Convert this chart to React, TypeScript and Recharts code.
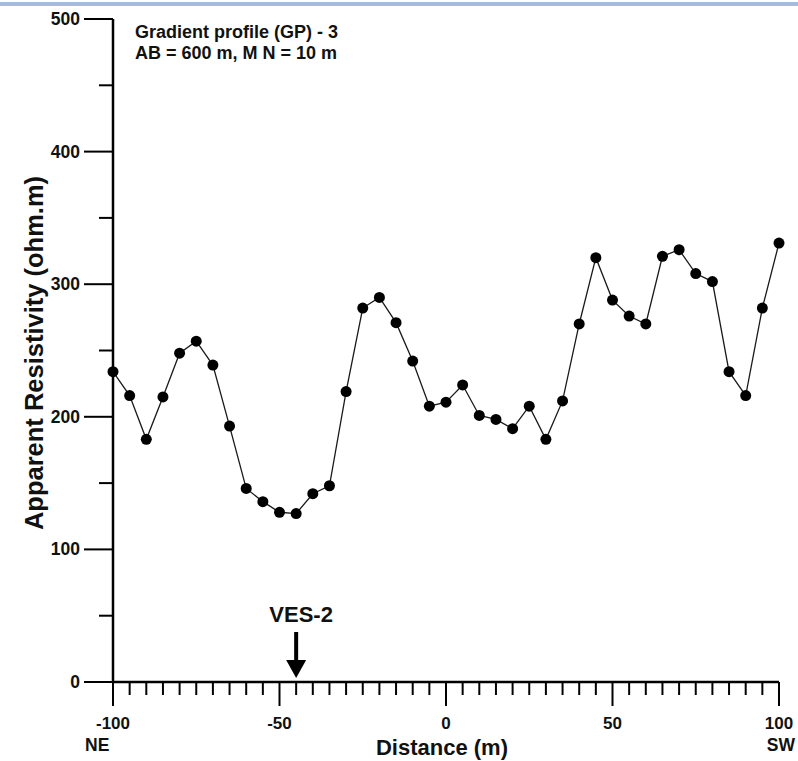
import React from "react";
import { LineChart, Line, XAxis, YAxis, ReferenceDot } from "recharts";

const DISTANCE = [
  -100, -95, -90, -85, -80, -75, -70, -65, -60, -55, -50, -45, -40, -35, -30, -25, -20, -15, -10, -5,
  0, 5, 10, 15, 20, 25, 30, 35, 40, 45, 50, 55, 60, 65, 70, 75, 80, 85, 90, 95, 100,
];
const RESISTIVITY = [
  234, 216, 183, 215, 248, 257, 239, 193, 146, 136, 128, 127, 142, 148, 219, 282, 290, 271, 242, 208,
  211, 224, 201, 198, 191, 208, 183, 212, 270, 320, 288, 276, 270, 321, 326, 308, 302, 234, 216, 282, 331,
];

const X_TICKS = [
  -100, -95, -90, -85, -80, -75, -70, -65, -60, -55, -50, -45, -40, -35, -30, -25, -20, -15, -10, -5,
  0, 5, 10, 15, 20, 25, 30, 35, 40, 45, 50, 55, 60, 65, 70, 75, 80, 85, 90, 95, 100,
];
const X_LABELS = [-100, -50, 0, 50, 100];
const Y_TICKS = [0, 50, 100, 150, 200, 250, 300, 350, 400, 450, 500];
const Y_LABELS = [0, 100, 200, 300, 400, 500];

const VES_POSITION = -45;
const VES_NAME = "VES-2";

const data = DISTANCE.map((d, i) => ({ distance: d, rho: RESISTIVITY[i] }));

const FONT = "'Liberation Sans', Arial, Helvetica, sans-serif";

function XTick(props: any) {
  const { x, y, payload } = props;
  const major = X_LABELS.includes(payload.value);
  return (
    <g>
      <line x1={x} y1={y} x2={x} y2={y + (major ? 24 : 13)} stroke="#000" strokeWidth={2} />
      {major && (
        <text x={x} y={y + 47} textAnchor="middle" fontFamily={FONT} fontWeight="bold" fontSize={17} fill="#111">
          {payload.value}
        </text>
      )}
    </g>
  );
}

function YTick(props: any) {
  const { x, y, payload } = props;
  const major = Y_LABELS.includes(payload.value);
  return (
    <g>
      <line x1={x} y1={y} x2={x - (major ? 29 : 14)} y2={y} stroke="#000" strokeWidth={2} />
      {major && (
        <text x={x - 33} y={y + 6} textAnchor="end" fontFamily={FONT} fontWeight="bold" fontSize={17.5} fill="#111">
          {payload.value}
        </text>
      )}
    </g>
  );
}

function VesMarker(props: any) {
  const { cx, cy } = props;
  return (
    <g>
      <text x={cx + 5} y={cy - 60} textAnchor="middle" fontFamily={FONT} fontWeight="bold" fontSize={22} fill="#111">
        {VES_NAME}
      </text>
      <rect x={cx - 2} y={cy - 50} width={4} height={30} fill="#000" />
      <polygon points={`${cx - 10},${cy - 22} ${cx + 10},${cy - 22} ${cx},${cy - 4}`} fill="#000" />
    </g>
  );
}

export default function App() {
  return (
    <div style={{ position: "absolute", left: 0, top: 0, width: 798, height: 761, background: "#fff" }}>
      <div style={{ position: "absolute", left: 0, top: 2, width: 798, height: 4, background: "#a6bbdd" }} />
      <LineChart width={798} height={761} data={data} margin={{ top: 19, right: 19, bottom: 49, left: 53 }}>
        <XAxis
          dataKey="distance"
          type="number"
          domain={[-100, 100]}
          ticks={X_TICKS}
          interval={0}
          height={30}
          tickSize={0}
          tickMargin={0}
          tickLine={false}
          axisLine={{ stroke: "#000", strokeWidth: 2.5 }}
          tick={<XTick />}
        />
        <YAxis
          type="number"
          domain={[0, 500]}
          ticks={Y_TICKS}
          interval={0}
          width={60}
          tickSize={0}
          tickMargin={0}
          tickLine={false}
          axisLine={{ stroke: "#000", strokeWidth: 2.5 }}
          tick={<YTick />}
        />
        <Line
          dataKey="rho"
          type="linear"
          stroke="#1a1a1a"
          strokeWidth={1.3}
          dot={{ r: 5.5, fill: "#000", stroke: "#000", strokeWidth: 0 }}
          isAnimationActive={false}
        />
        <ReferenceDot x={VES_POSITION} y={0} r={0} shape={<VesMarker />} />
        <text x={135} y={38} fontFamily={FONT} fontWeight="bold" fontSize={18} fill="#111">
          Gradient profile (GP) - 3
        </text>
        <text x={135} y={59} fontFamily={FONT} fontWeight="bold" fontSize={18} fill="#111">
          AB = 600 m, M N = 10 m
        </text>
        <text
          x={0}
          y={0}
          transform="translate(43, 353) rotate(-90)"
          textAnchor="middle"
          fontFamily={FONT}
          fontWeight="bold"
          fontSize={25.5}
          fill="#111"
        >
          Apparent Resistivity (ohm.m)
        </text>
        <text x={442} y={755} textAnchor="middle" fontFamily={FONT} fontWeight="bold" fontSize={22} fill="#111">
          Distance (m)
        </text>
        <text x={85} y={751} fontFamily={FONT} fontWeight="bold" fontSize={17.5} fill="#111">
          NE
        </text>
        <text x={795} y={751} textAnchor="end" fontFamily={FONT} fontWeight="bold" fontSize={17.5} fill="#111">
          SW
        </text>
      </LineChart>
    </div>
  );
}
